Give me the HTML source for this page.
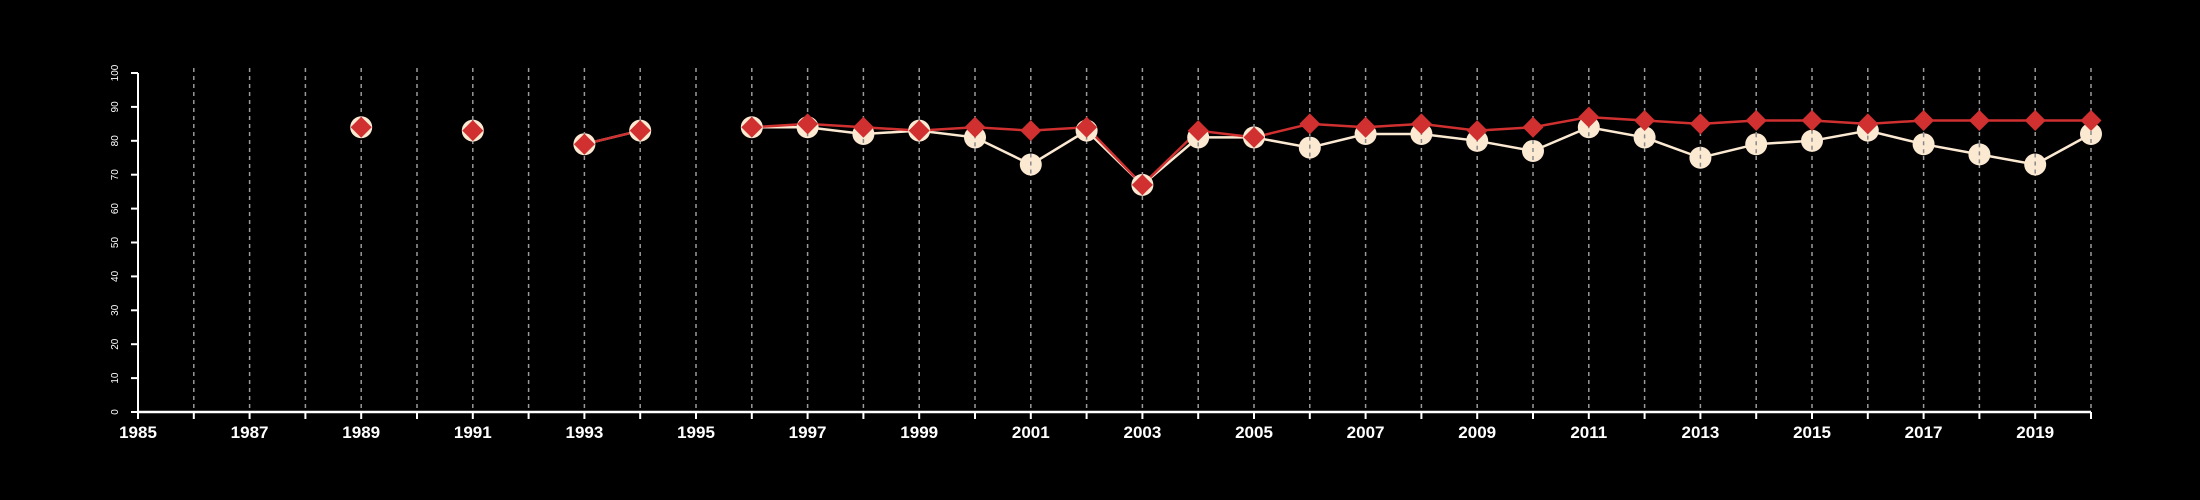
<!DOCTYPE html>
<html><head><meta charset="utf-8"><style>
html,body{margin:0;padding:0;background:#000;}
svg{display:block;font-family:"Liberation Sans",Arial,sans-serif;}
</style></head><body>
<svg id="chart" width="2200" height="500" viewBox="0 0 2200 500" xmlns="http://www.w3.org/2000/svg">
<rect width="2200" height="500" fill="#000"/>
<g id="grid"></g>
<g id="axes"></g>
<g id="series"></g>
</svg>
<script>
const years = [1989,1991,1993,1994,1996,1997,1998,1999,2000,2001,2002,2003,2004,2005,2006,2007,2008,2009,2010,2011,2012,2013,2014,2015,2016,2017,2018,2019,2020];
const seriesA = [84,83,79,83,84,84,82,83,81,73,83,67,81,81,78,82,82,80,77,84,81,75,79,80,83,79,76,73,82];
const seriesB = [84,83,79,83,84,85,84,83,84,83,84,67,83,81,85,84,85,83,84,87,86,85,86,86,85,86,86,86,86];
const yTicks = [0,10,20,30,40,50,60,70,80,90,100];
const xMin = 1985, xMax = 2020;

const NS = "http://www.w3.org/2000/svg";
const X0 = 138, X1 = 2091, Y0 = 412, Y1 = 73;
function xs(v){ return X0 + (v - xMin) / (xMax - xMin) * (X1 - X0); }
function ys(v){ return Y0 - v / 100 * (Y0 - Y1); }
function mk(tag, attrs, parent){
  const e = document.createElementNS(NS, tag);
  for (const k in attrs) e.setAttribute(k, attrs[k]);
  parent.appendChild(e);
  return e;
}
const grid = document.getElementById('grid');
const axes = document.getElementById('axes');
const series = document.getElementById('series');

for (let yr = xMin + 1; yr <= xMax; yr++) {
  const l = mk('line', {x1: xs(yr), x2: xs(yr), y1: Y1 - 5, y2: Y0, stroke: '#9a9a9a', 'stroke-width': 1.5, 'stroke-dasharray': '4,4'}, grid);
  
  
}
// y axis
let ya = mk('line', {x1: X0, x2: X0, y1: Y1, y2: Y0, stroke: '#fff', 'stroke-width': 2}, axes);


yTicks.forEach(t => {
  const tk = mk('line', {x1: X0 - 7, x2: X0, y1: ys(t), y2: ys(t), stroke: '#fff', 'stroke-width': 2}, axes);
  
  
  const tx = mk('text', {x: 0, y: 0, fill: '#fff', 'font-size': 10, 'text-anchor': 'middle', transform: `translate(${X0 - 20},${ys(t)}) rotate(-90)`}, axes);
  tx.textContent = t;
  
  
});
// x axis
let xa = mk('line', {x1: X0, x2: X1, y1: Y0, y2: Y0, stroke: '#fff', 'stroke-width': 2.5}, axes);


for (let yr = xMin; yr <= xMax; yr++) {
  const tk = mk('line', {x1: xs(yr), x2: xs(yr), y1: Y0, y2: Y0 + 7, stroke: '#fff', 'stroke-width': 2}, axes);
  
  
  if ((yr - xMin) % 2 === 0) {
    const tx = mk('text', {x: xs(yr), y: Y0 + 26, fill: '#fff', 'font-size': 17, 'font-weight': 'bold', 'text-anchor': 'middle'}, axes);
    tx.textContent = yr;
    
    
  }
}
// lines (broken at gaps)
function drawLine(vals, color, name){
  let seg = [];
  const flush = () => {
    if (seg.length > 1) {
      const p = mk('polyline', {points: seg.join(' '), fill: 'none', stroke: color, 'stroke-width': 2.5}, series);
      
      
    }
    seg = [];
  };
  years.forEach((yr, i) => {
    if (i > 0 && yr - years[i - 1] > 1) flush();
    seg.push(xs(yr) + ',' + ys(vals[i]));
  });
  flush();
}
drawLine(seriesA, '#fbe9d2', 'line-series-a');
drawLine(seriesB, '#d03030', 'line-series-b');
years.forEach((yr, i) => {
  const c = mk('circle', {cx: xs(yr), cy: ys(seriesA[i]), r: 11, fill: '#fbe9d2'}, series);
  
  
  const dash = mk('line', {x1: xs(yr), x2: xs(yr), y1: ys(seriesA[i]) - 11, y2: ys(seriesA[i]) + 11, stroke: '#8a8a8a', 'stroke-width': 1.5, 'stroke-dasharray': '4,4'}, series);
  
  
});
years.forEach((yr, i) => {
  const x = xs(yr), y = ys(seriesB[i]), d = 10.5;
  const p = mk('polygon', {points: `${x},${y-d} ${x+d},${y} ${x},${y+d} ${x-d},${y}`, fill: '#d03030'}, series);
  
  
});
</script>
</body></html>
